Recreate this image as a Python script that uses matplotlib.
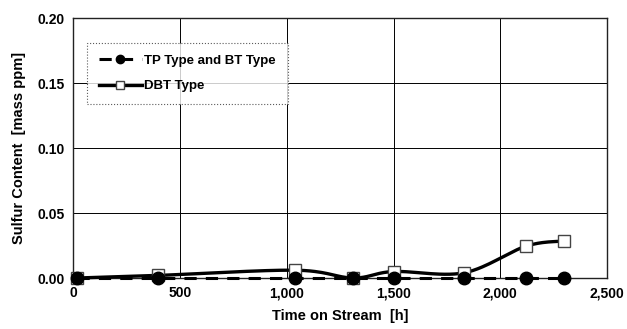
import matplotlib
matplotlib.use("Agg")
import matplotlib.pyplot as plt
import numpy as np

# data
hours = [20, 400, 1040, 1310, 1500, 1830, 2120, 2300]
tp_bt = [0.0, 0.0, 0.0, 0.0, 0.0, 0.0, 0.0, 0.0]
dbt = [0.0, 0.002, 0.006, 0.0, 0.005, 0.004, 0.0245, 0.0285]

x_ticks = [0, 500, 1000, 1500, 2000, 2500]
x_labels = ["0", "500", "1,000", "1,500", "2,000", "2,500"]
y_ticks = [0.0, 0.05, 0.10, 0.15, 0.20]
y_labels = ["0.00", "0.05", "0.10", "0.15", "0.20"]


# smoothed line like a spreadsheet "smoothed line" (Catmull-Rom through points)
def smooth(xs, ys, n=30):
    xs = np.asarray(xs, float)
    ys = np.asarray(ys, float)
    px = np.concatenate([[xs[0]], xs, [xs[-1]]])
    py = np.concatenate([[ys[0]], ys, [ys[-1]]])
    out_x, out_y = [], []
    for i in range(1, len(px) - 2):
        t = np.linspace(0, 1, n)
        for p, o in ((px, out_x), (py, out_y)):
            p0, p1, p2, p3 = p[i - 1], p[i], p[i + 1], p[i + 2]
            o.extend(0.5 * ((2 * p1) + (-p0 + p2) * t
                            + (2 * p0 - 5 * p1 + 4 * p2 - p3) * t ** 2
                            + (-p0 + 3 * p1 - 3 * p2 + p3) * t ** 3))
    return out_x, out_y


plt.rcParams['font.family'] = ['Liberation Sans', 'DejaVu Sans']

fig = plt.figure(figsize=(6.27, 3.29), dpi=100)
ax = fig.add_axes([0.1164, 0.155, 0.852, 0.79])

# DBT: smoothed solid line with open squares
sx, sy = smooth(hours, dbt)
ax.plot(sx, sy, color='black', lw=2.4, zorder=3, clip_on=False)
ax.plot(hours, dbt, ls='none', marker='s', ms=9, mfc='white', mec='#444444',
        mew=1.0, zorder=4, clip_on=False)

# TP/BT: dashed line with filled circles, drawn on top
sx, sy = smooth(hours, tp_bt)
ax.plot(sx, sy, color='black', lw=2.2, ls=(0, (4, 3)), zorder=5, clip_on=False)
ax.plot(hours, tp_bt, ls='none', marker='o', ms=9, color='black', zorder=6,
        clip_on=False)

# legend proxies
ax.plot([], [], color='black', lw=2.2, ls=(0, (4, 3)), marker='o', ms=6,
        label='TP Type and BT Type')
ax.plot([], [], color='black', lw=2.4, marker='s', ms=6, mfc='white',
        mec='#444444', label='DBT Type')

ax.set_xlim(0, 2500)
ax.set_ylim(0, 0.20)
ax.set_xticks(x_ticks)
ax.set_xticklabels(x_labels)
ax.set_yticks(y_ticks)
ax.set_yticklabels(y_labels)
ax.tick_params(length=0, labelsize=10, pad=6)
for lab in ax.get_xticklabels() + ax.get_yticklabels():
    lab.set_fontweight('bold')

ax.grid(True, color='black', lw=0.7)
for s in ax.spines.values():
    s.set_color('#222222')
    s.set_linewidth(1.0)

ax.set_xlabel('Time on Stream  [h]', fontsize=10.5, fontweight='bold', labelpad=6)
ax.set_ylabel('Sulfur Content  [mass ppm]', fontsize=10.5, fontweight='bold', labelpad=8)

leg = ax.legend(loc='upper left', bbox_to_anchor=(0.027, 0.905), frameon=True,
                fancybox=False, edgecolor='#333333', fontsize=9.5,
                handlelength=3.2, borderpad=0.9, labelspacing=1.0,
                handletextpad=0.2, borderaxespad=0)
leg.get_frame().set_linewidth(0.8)
leg.get_frame().set_linestyle(':')
leg.set_zorder(10)
for t in leg.get_texts():
    t.set_fontweight('bold')

fig.savefig('out.png', dpi=100)
